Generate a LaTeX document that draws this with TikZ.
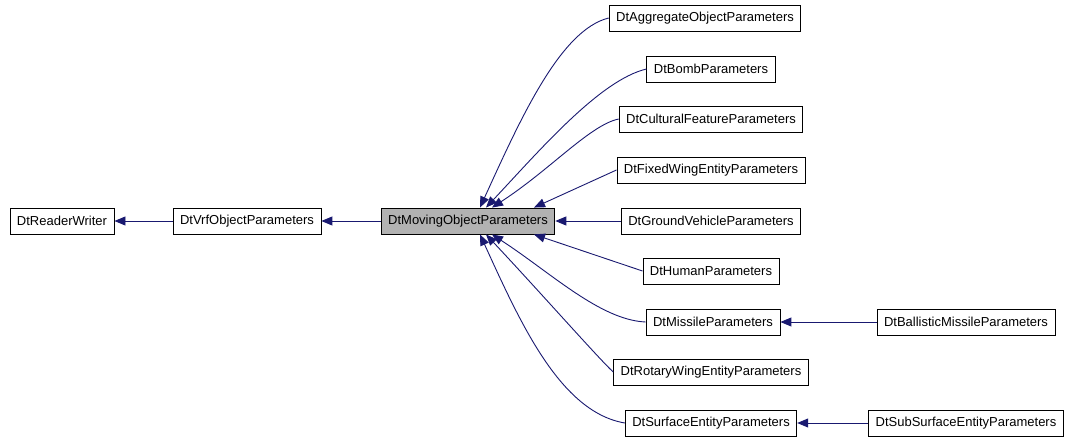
\documentclass[tikz,border=0pt]{standalone}
\usepackage{fontspec}
\setmainfont{Liberation Sans}
\usetikzlibrary{arrows.meta}
\definecolor{edgeblue}{HTML}{191970}
\begin{document}
\begin{tikzpicture}[x=1pt,y=-1pt,thick,
    cls/.style={draw,rectangle,line width=0.9pt,minimum height=26pt,inner xsep=7pt,font=\fontsize{13}{15}\selectfont},
    base/.style={cls,fill=black!30},
    link/.style={draw=edgeblue,line width=0.9pt,{Triangle[length=11pt,width=9pt]}-}]
    \useasboundingbox (0,0) rectangle (1075,443);
    \node[cls] (rw) at (62,221) {DtReaderWriter};
    \node[cls] (vrf) at (247,221) {DtVrfObjectParameters};
    \node[base] (mov) at (468,221) {DtMovingObjectParameters};
    \node[cls] (agg) at (705,18) {DtAggregateObjectParameters};
    \node[cls] (bomb) at (711,69) {DtBombParameters};
    \node[cls] (cult) at (711,119) {DtCulturalFeatureParameters};
    \node[cls] (fix) at (711,170) {DtFixedWingEntityParameters};
    \node[cls] (gnd) at (711,221) {DtGroundVehicleParameters};
    \node[cls] (hum) at (711,271) {DtHumanParameters};
    \node[cls] (mis) at (713,322) {DtMissileParameters};
    \node[cls] (rot) at (711,372) {DtRotaryWingEntityParameters};
    \node[cls] (surf) at (711,423) {DtSurfaceEntityParameters};
    \node[cls] (bal) at (966,322) {DtBallisticMissileParameters};
    \node[cls] (sub) at (966,423) {DtSubSurfaceEntityParameters};

    % inheritance edges
    \draw[link] (rw) -- (vrf);
    \draw[link] (vrf) -- (mov);
    \draw[link] ([xshift=12pt]mov.north) .. controls (520,120) and (560,30) .. (agg.west);
    \draw[link] ([xshift=18pt]mov.north) .. controls (540,150) and (600,80) .. (bomb.west);
    \draw[link] ([xshift=24pt]mov.north) .. controls (550,170) and (590,125) .. (cult.west);
    \draw[link] ([xshift=66pt]mov.north) -- (fix.west);
    \draw[link] (mov) -- (gnd);
    \draw[link] ([xshift=66pt]mov.south) -- (hum.west);
    \draw[link] ([xshift=24pt]mov.south) .. controls (550,272) and (600,320) .. (mis.west);
    \draw[link] ([xshift=18pt]mov.south) .. controls (540,292) and (600,360) .. (rot.west);
    \draw[link] ([xshift=12pt]mov.south) .. controls (520,322) and (560,412) .. (surf.west);
    \draw[link] (mis) -- (bal);
    \draw[link] (surf) -- (sub);
\end{tikzpicture}
\end{document}
